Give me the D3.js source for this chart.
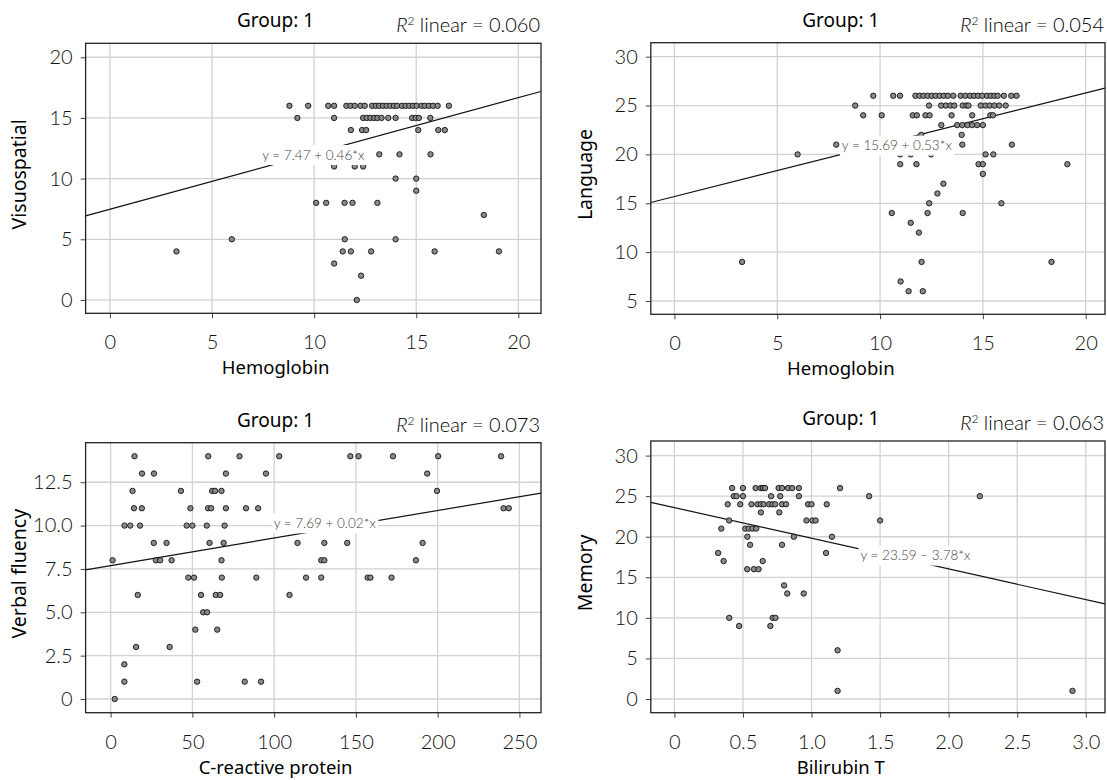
<!DOCTYPE html>
<html>
<head>
<meta charset="utf-8">
<script src="https://cdn.jsdelivr.net/npm/d3@7"></script>
<style>
body { margin: 0; background: #fff; }
svg text { font-family: "Lato", "Noto Sans", sans-serif; }
</style>
</head>
<body>
<svg id="chart"></svg>
<script>
var w = 1107;
var h = 780;

// points, [x, y]
var hgbVisuospatial = [
  [8.79,16],[9.71,16],[10.69,16],[10.98,16],[11.58,16],[11.78,16],[11.99,16],[12.27,16],[12.48,16],[12.84,16],
  [13.02,16],[13.19,16],[13.37,16],[13.55,16],[13.73,16],[13.91,16],[14.07,16],[14.3,16],[14.48,16],[14.66,16],
  [14.84,16],[15.02,16],[15.26,16],[15.42,16],[15.62,16],[15.82,16],[16.05,16],[16.6,16],
  [9.18,15],[10.98,15],[12.4,15],[12.58,15],[12.76,15],[12.94,15],[13.1,15],[13.3,15],[13.63,15],[13.99,15],
  [14.8,15],[14.97,15],[15.13,15],[15.69,15],
  [11.8,14],[12.35,14],[12.55,14],[15.1,14],[16.08,14],[16.4,14],
  [13.19,12],[14.18,12],[15.7,12],
  [10.98,11],[11.99,11],[12.4,11],
  [13.99,10],[15.0,10],[15.0,9],
  [10.1,8],[10.59,8],[11.49,8],[11.88,8],[13.1,8],
  [18.31,7],
  [5.97,5],[11.5,5],[13.99,5],
  [3.26,4],[11.4,4],[11.8,4],[12.79,4],[15.9,4],[19.05,4],
  [10.98,3],[12.3,2],[12.09,0]
];

var hgbLanguage = [
  [9.67,26],[10.64,26],[10.97,26],[11.72,26],[11.92,26],[12.11,26],[12.31,26],[12.51,26],[12.7,26],[12.9,26],
  [13.1,26],[13.3,26],[13.56,26],[13.92,26],[14.15,26],[14.38,26],[14.57,26],[14.77,26],[14.97,26],[15.2,26],
  [15.39,26],[15.56,26],[15.72,26],[16.02,26],[16.38,26],[16.64,26],
  [8.79,25],[12.38,25],[12.97,25],[13.2,25],[13.43,25],[13.61,25],[14.02,25],[14.2,25],[14.3,25],[14.9,25],
  [15.13,25],[15.33,25],[15.56,25],[15.8,25],[16.11,25],
  [9.18,24],[10.08,24],[11.59,24],[11.79,24],[12.21,24],[12.41,24],[13.48,24],[14.48,24],[15.36,24],[15.49,24],
  [12.98,23],[13.75,23],[14.0,23],[14.25,23],[14.48,23],[14.72,23],[15.0,23],
  [12.0,22],[13.97,22],
  [7.87,21],[14.0,21],[16.41,21],
  [5.99,20],[10.98,20],[11.49,20],[12.48,20],[15.13,20],[15.51,20],
  [10.98,19],[11.77,19],[14.79,19],[15.0,19],[19.11,19],
  [15.0,18],[13.08,17],[12.79,16],
  [12.39,15],[15.9,15],
  [10.57,14],[12.31,14],[14.02,14],
  [11.49,13],[11.89,12],
  [3.29,9],[12.02,9],[18.34,9],
  [11.0,7],[11.39,6],[12.08,6]
];

var crpVerbalFluency = [
  [14.6,14],[59.7,14],[78.8,14],[103.1,14],[146.6,14],[151.6,14],[172.7,14],[200.3,14],[238.8,14],
  [19.2,13],[26.5,13],[70.5,13],[95.0,13],[193.6,13],
  [13.4,12],[43.0,12],[62.1,12],[63.9,12],[67.8,12],[199.6,12],
  [14.3,11],[19.1,11],[48.8,11],[59.6,11],[61.5,11],[70.5,11],[82.8,11],[90.2,11],[240.3,11],[243.5,11],
  [8.5,10],[12.0,10],[18.0,10],[46.5,10],[50.0,10],[58.8,10],[69.7,10],
  [26.4,9],[34.2,9],[60.5,9],[69.1,9],[114.3,9],[130.7,9],[144.7,9],[190.8,9],
  [1.2,8],[27.7,8],[30.3,8],[37.3,8],[67.8,8],[128.8,8],[130.7,8],[186.7,8],
  [47.5,7],[51.0,7],[68.0,7],[89.1,7],[119.5,7],[128.8,7],[157.2,7],[158.9,7],[171.8,7],
  [16.6,6],[55.3,6],[64.3,6],[67.0,6],[109.4,6],
  [56.6,5],[59.0,5],
  [51.8,4],[65.2,4],
  [15.6,3],[36.1,3],
  [8.4,2],
  [8.4,1],[52.9,1],[82.0,1],[92.0,1],
  [2.5,0]
];

var bilirubinMemory = [
  [0.421,26],[0.5,26],[0.592,26],[0.631,26],[0.646,26],[0.661,26],[0.76,26],[0.785,26],[0.829,26],[0.859,26],
  [0.908,26],[1.208,26],
  [0.433,25],[0.453,25],[0.5,25],[0.705,25],[0.772,25],[0.908,25],[1.42,25],[2.227,25],
  [0.389,24],[0.48,24],[0.562,24],[0.606,24],[0.631,24],[0.651,24],[0.69,24],[0.715,24],[0.735,24],[0.785,24],
  [0.814,24],[0.975,24],[1.0,24],[1.111,24],
  [0.631,23],[0.765,23],
  [0.399,22],[0.963,22],[1.007,22],[1.03,22],[1.5,22],
  [0.342,21],[0.517,21],[0.542,21],[0.569,21],[0.597,21],
  [0.532,20],[0.871,20],[1.149,20],
  [0.552,19],[0.785,19],
  [0.319,18],[1.106,18],
  [0.359,17],[0.644,17],
  [0.531,16],[0.58,16],[0.614,16],
  [0.8,14],
  [0.823,13],[0.943,13],
  [0.4,10],[0.717,10],[0.737,10],
  [0.472,9],[0.7,9],
  [1.19,6],
  [1.19,1],[2.903,1]
];

// tick values
var hgbTicks = [0, 5, 10, 15, 20];
var visuoTicks = [0, 5, 10, 15, 20];
var languageTicks = [5, 10, 15, 20, 25, 30];
var crpTicks = [0, 50, 100, 150, 200, 250];
var fluencyTicks = [0, 2.5, 5, 7.5, 10, 12.5];
var bilirubinTicks = [0, 0.5, 1, 1.5, 2, 2.5, 3];
var memoryTicks = [0, 5, 10, 15, 20, 25, 30];

// fit lines: intercept, slope, R square, equation text
var fitIntercepts = [7.47, 15.69, 7.69, 23.59];
var fitSlopes = [0.46, 0.53, 0.0159, -3.78];
var rSquares = ["0.060", "0.054", "0.073", "0.063"];
var equations = ["y = 7.47 + 0.46*x", "y = 15.69 + 0.53*x", "y = 7.69 + 0.02*x", "y = 23.59 \u2013 3.78*x"];
var eqAnchors = [[7.46, 11.94], [8.14, 20.9], [99.7, 10.13], [1.357, 17.67]];

var xLabels = ["Hemoglobin", "Hemoglobin", "C-reactive protein", "Bilirubin T"];
var yLabels = ["Visuospatial", "Language", "Verbal fluency", "Memory"];

var oneDec = d => d === 0 ? "0" : d3.format(".1f")(d);
var plain = d => String(d);

var panels = [
  { data: hgbVisuospatial, left: 85.6, right: 541, top: 43.3, bottom: 313.3,
    xDomain: [-1.19, 21.11], yDomain: [-1.1, 21.15], xTicks: hgbTicks, yTicks: visuoTicks, xFmt: plain, yFmt: plain },
  { data: hgbLanguage, left: 650.8, right: 1105, top: 42.7, bottom: 314.3,
    xDomain: [-1.15, 20.94], yDomain: [3.64, 31.43], xTicks: hgbTicks, yTicks: languageTicks, xFmt: plain, yFmt: plain },
  { data: crpVerbalFluency, left: 85.6, right: 541, top: 442.7, bottom: 712.7,
    xDomain: [-15.3, 263.2], yDomain: [-0.79, 14.78], xTicks: crpTicks, yTicks: fluencyTicks, xFmt: plain, yFmt: oneDec },
  { data: bilirubinMemory, left: 650.8, right: 1105, top: 441, bottom: 712.7,
    xDomain: [-0.172, 3.14], yDomain: [-1.69, 31.8], xTicks: bilirubinTicks, yTicks: memoryTicks, xFmt: oneDec, yFmt: plain }
];

var svg = d3.select("#chart")
    .attr("width", w)
    .attr("height", h);

panels.forEach(drawPanel);

function drawPanel(p, i) {
    var x = d3.scaleLinear().domain(p.xDomain).range([p.left, p.right]);
    var y = d3.scaleLinear().domain(p.yDomain).range([p.bottom, p.top]);
    var g = svg.append("g");

    g.append("clipPath").attr("id", "clip" + i)
      .append("rect")
        .attr("x", p.left).attr("y", p.top)
        .attr("width", p.right - p.left).attr("height", p.bottom - p.top);

    // grid
    g.selectAll(".vgrid").data(p.xTicks).enter().append("line")
        .attr("x1", d => x(d)).attr("x2", d => x(d))
        .attr("y1", p.top).attr("y2", p.bottom)
        .style("stroke", "#d2d2d2").style("stroke-width", 1.3);
    g.selectAll(".hgrid").data(p.yTicks).enter().append("line")
        .attr("x1", p.left).attr("x2", p.right)
        .attr("y1", d => y(d)).attr("y2", d => y(d))
        .style("stroke", "#d2d2d2").style("stroke-width", 1.3);

    // axes
    var xa = g.append("g")
        .attr("transform", "translate(0," + p.bottom + ")")
        .call(d3.axisBottom(x).tickValues(p.xTicks).tickFormat(p.xFmt).tickSize(5).tickPadding(17));
    var ya = g.append("g")
        .attr("transform", "translate(" + p.left + ",0)")
        .call(d3.axisLeft(y).tickValues(p.yTicks).tickFormat(p.yFmt).tickSize(5).tickPadding(8));
    [xa, ya].forEach(function (a) {
        a.select(".domain").remove();
        a.selectAll("line").style("stroke", "#444");
        a.selectAll("text")
            .style("font-family", "Lato, 'Noto Sans', sans-serif")
            .style("font-weight", 300)
            .style("font-size", "20px")
            .style("fill", "#111");
    });

    // fit line
    var a = fitIntercepts[i], b = fitSlopes[i];
    g.append("path")
        .datum(p.xDomain)
        .attr("clip-path", "url(#clip" + i + ")")
        .attr("d", d3.line().x(d => x(d)).y(d => y(a + b * d)))
        .style("fill", "none")
        .style("stroke", "#111")
        .style("stroke-width", 1.2);

    // points
    g.selectAll(".pt").data(p.data).enter().append("circle")
        .attr("cx", d => x(d[0]))
        .attr("cy", d => y(d[1]))
        .attr("r", 2.7)
        .style("fill", "#8a8a8a")
        .style("stroke", "#111")
        .style("stroke-width", 0.9);

    // equation label
    var eq = g.append("text")
        .attr("x", x(eqAnchors[i][0]))
        .attr("y", y(eqAnchors[i][1]))
        .attr("dy", "0.35em")
        .style("font-size", "13.5px")
        .style("font-weight", 300)
        .style("fill", "#444")
        .text(equations[i]);
    var bb = eq.node().getBBox();
    g.insert("rect", function () { return eq.node(); })
        .attr("x", bb.x - 2).attr("y", y(eqAnchors[i][1]) - 10)
        .attr("width", bb.width + 4).attr("height", 20)
        .style("fill", "#fff");

    // frame
    g.append("rect")
        .attr("x", p.left).attr("y", p.top)
        .attr("width", p.right - p.left).attr("height", p.bottom - p.top)
        .style("fill", "none")
        .style("stroke", "#222")
        .style("stroke-width", 1.3);

    // titles
    g.append("text")
        .attr("x", p.left + 190).attr("y", p.top - 16)
        .attr("text-anchor", "middle")
        .style("font-family", "'Noto Sans', sans-serif")
        .style("font-size", "19px")
        .style("font-weight", 400)
        .style("fill", "#000")
        .text("Group: 1");

    var r2 = g.append("text")
        .attr("x", p.right - 1).attr("y", p.top - 11)
        .attr("text-anchor", "end")
        .style("font-size", "20px")
        .style("font-weight", 300)
        .style("fill", "#000");
    r2.append("tspan").style("font-style", "italic").text("R");
    r2.append("tspan").attr("dy", -7).style("font-size", "12px").text("2");
    r2.append("tspan").attr("dy", 7).text(" linear = " + rSquares[i]);

    g.append("text")
        .attr("x", p.left + 190).attr("y", p.bottom + 61)
        .attr("text-anchor", "middle")
        .style("font-family", "'Noto Sans', sans-serif")
        .style("font-size", "18.5px")
        .style("fill", "#000")
        .text(xLabels[i]);

    g.append("text")
        .attr("transform", "translate(" + (p.left - 66) + "," + ((p.top + p.bottom) / 2 - 4) + ") rotate(-90)")
        .attr("text-anchor", "middle")
        .attr("dy", "0.35em")
        .style("font-family", "'Noto Sans', sans-serif")
        .style("font-size", "19.5px")
        .style("fill", "#000")
        .text(yLabels[i]);
}
</script>
</body>
</html>
